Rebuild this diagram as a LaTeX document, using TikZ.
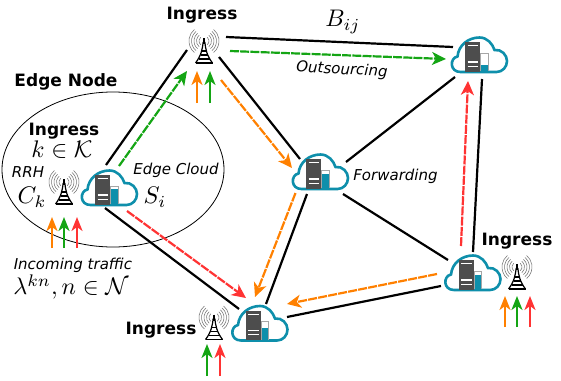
\documentclass[tikz,border=0pt]{standalone}
\usepackage{fontspec}
\usepackage{amsmath}
\setmainfont{DejaVu Sans}
\usetikzlibrary{arrows.meta,shapes.geometric}
\definecolor{teal1}{RGB}{14,143,171}
\definecolor{srv}{RGB}{77,77,77}
\definecolor{orng}{RGB}{255,128,0}
\definecolor{grn}{RGB}{20,165,20}
\definecolor{rd}{RGB}{255,51,51}
\tikzset{
  x=1pt,y=-1pt,
  link/.style={draw=black,line width=2.2pt},
  flow/.style={line width=2.2pt,dash pattern=on 9pt off 1.2pt,-{Stealth[length=14pt,width=13pt,inset=4pt]}},
  inflow/.style={line width=2.2pt,-{Stealth[length=14pt,width=11pt,inset=4pt]}},
  spot/.style={inner sep=0pt,minimum size=1pt},
  bold/.style={font=\fontsize{17}{20}\selectfont\bfseries,inner sep=0pt},
  ital/.style={font=\fontsize{15}{18}\selectfont\itshape,inner sep=0pt},
  mth/.style={inner sep=0pt,scale=2.4},
  cloud/.pic={
    \draw[teal1,line width=2.6pt,fill=white]
      (-19,17) .. controls (-30,17) and (-30,3) .. (-22,1.5)
      .. controls (-21,-10) and (-11,-17.5) .. (0,-17.5)
      .. controls (8,-17.5) and (13,-11) .. (15,-5)
      .. controls (22,-6) and (27.5,0) .. (27.5,6)
      .. controls (27.5,12) and (23,17) .. (17,17) -- cycle;
    \fill[srv] (-14.5,-13) rectangle (0.5,16.5);
    \draw[white,line width=1.2pt] (-12,-9.3) -- (-1.5,-9.3) (-12,7) -- (-1.5,7) (-12,11.3) -- (-1.5,11.3);
    \fill[teal1] (0.5,#1) rectangle (9.3,16.5);
    \draw[gray!70,line width=1pt] (1,16) -- (1,-2) -- (8.8,-2) -- (8.8,16);
  },
  tower/.pic={
    \foreach \r in {5,7.5,10,12.5,15}{
      \draw[gray!90!black,line width=.55pt] ({\r*cos(50)},{\r*sin(50)}) arc[start angle=-50,end angle=50,radius=\r pt];
      \draw[gray!90!black,line width=.55pt] ({-\r*cos(50)},{\r*sin(50)}) arc[start angle=230,end angle=130,radius=\r pt];
    }
    \draw[black,line width=1.2pt] (0,-3) -- (0,3);
    \draw[black,line width=1.2pt] (-8.5,22) .. controls (-3,15) and (-1.5,8) .. (-.8,1);
    \draw[black,line width=1.2pt] (8.5,22) .. controls (3,15) and (1.5,8) .. (.8,1);
    \draw[black,line width=1.1pt] (-2,10) -- (2,10) (-3.5,14) -- (3.5,14) (-5.5,18) -- (5.5,18) (-8.5,22) -- (8.5,22);
  }
}
\begin{document}
\begin{tikzpicture}
\useasboundingbox (0,0) rectangle (561,380);
\node[draw=black,line width=.8pt,ellipse,inner sep=0pt,minimum width=222pt,minimum height=155pt] (en) at (113,169.5) {};
% cloud anchors
\node[spot] (ce) at (109.5,188) {};
\node[spot] (cf) at (320.5,172) {};
\node[spot] (ct) at (479.5,55) {};
\node[spot] (cb) at (260,323.5) {};
\node[spot] (cr) at (473,273) {};
% tower anchors
\node[spot] (tt) at (204,41) {};
\node[spot] (te) at (64,182) {};
\node[spot] (tb) at (214,317.5) {};
\node[spot] (tr) at (517,267) {};
% links
\draw[link] ([shift={(-17,9)}]tt.center) -- ([shift={(-3.5,-23)}]ce.center);
\draw[link] ([shift={(22,-4)}]tt.center) -- ([shift={(-26.5,-8)}]ct.center);
\draw[link] ([shift={(15,16)}]tt.center) -- ([shift={(-20.5,-13)}]cf.center);
\draw[link] ([shift={(25.5,-10)}]cf.center) -- ([shift={(-24.5,22)}]ct.center);
\draw[link] ([shift={(2.5,24)}]ct.center) -- ([shift={(0,-21)}]cr.center);
\draw[link] ([shift={(22.5,22)}]cf.center) -- ([shift={(-25,-13)}]cr.center);
\draw[link] ([shift={(-13.5,22)}]cf.center) -- ([shift={(6,-19.5)}]cb.center);
\draw[link] ([shift={(-32,13)}]cr.center) -- ([shift={(27,-6.5)}]cb.center);
\draw[link] ([shift={(-4.5,20)}]ce.center) -- ([shift={(-21,-14.5)}]cb.center);
% flows
\draw[flow,grn] ([shift={(9.5,-22)}]ce.center) -- ([shift={(-17,30)}]tt.center);
\draw[flow,grn] ([shift={(26,10)}]tt.center) -- ([shift={(-33.5,4)}]ct.center);
\draw[flow,orng] ([shift={(17,39)}]tt.center) -- ([shift={(-28.5,-4)}]cf.center);
\draw[flow,orng] ([shift={(-25,21)}]cf.center) -- ([shift={(-5,-26.5)}]cb.center);
\draw[flow,rd] ([shift={(17.5,23)}]ce.center) -- ([shift={(-14,-25.5)}]cb.center);
\draw[flow,rd] ([shift={(-12,-27)}]cr.center) -- ([shift={(-11.5,26)}]ct.center);
\draw[flow,orng] ([shift={(-36,1)}]cr.center) -- ([shift={(27,-19.5)}]cb.center);
% clouds and towers
\pic at (ce) {cloud=1};
\pic at (cf) {cloud=2};
\pic at (ct) {cloud=10};
\pic at (cb) {cloud=4.5};
\pic at (cr) {cloud=2};
\pic at (tt) {tower};
\pic at (te) {tower};
\pic at (tb) {tower};
\pic at (tr) {tower};
% incoming arrows
\coordinate (a1s) at (197,103); \coordinate (a1e) at (197,71);
\coordinate (a2s) at (210,103); \coordinate (a2e) at (210,71);
\draw[inflow,orng] (a1s) -- (a1e);
\draw[inflow,grn] (a2s) -- (a2e);
\coordinate (b1s) at (52,248); \coordinate (b1e) at (52,217);
\coordinate (b2s) at (64,248); \coordinate (b2e) at (64,217);
\coordinate (b3s) at (77,248); \coordinate (b3e) at (77,217);
\draw[inflow,orng] (b1s) -- (b1e);
\draw[inflow,grn] (b2s) -- (b2e);
\draw[inflow,rd] (b3s) -- (b3e);
\coordinate (c1s) at (207,376); \coordinate (c1e) at (207,344);
\coordinate (c2s) at (220,376); \coordinate (c2e) at (220,344);
\draw[inflow,grn] (c1s) -- (c1e);
\draw[inflow,rd] (c2s) -- (c2e);
\coordinate (d1s) at (505,327); \coordinate (d1e) at (505,296);
\coordinate (d2s) at (517,327); \coordinate (d2e) at (517,296);
\coordinate (d3s) at (530,327); \coordinate (d3e) at (530,296);
\draw[inflow,orng] (d1s) -- (d1e);
\draw[inflow,grn] (d2s) -- (d2e);
\draw[inflow,rd] (d3s) -- (d3e);
% labels
\node[bold] (l1) at (202,15.5) {Ingress};
\node[bold] (l2) at (66,81.5) {Edge Node};
\node[bold] (l3) at (64,131) {Ingress};
\node[bold] (l4) at (161,329.7) {Ingress};
\node[bold] (l5) at (517,240.8) {Ingress};
\node[ital] (l6) at (342,70) [rotate=-3] {Outsourcing};
\node[ital] (l7) at (395.5,176) {Forwarding};
\node[ital] (l8) at (28,171.7) {RRH};
\node[ital] (l9) at (176,170.5) {Edge Cloud};
\node[ital] (l10) at (73,265) {Incoming traffic};
\node[mth] (m1) at (343,22) {$B_{ij}$};
\node[mth] (m2) at (62,150) {$k\in\mathcal{K}$};
\node[mth] (m3) at (32,197) {$C_k$};
\node[mth] (m4) at (155,197) {$S_i$};
\node[mth] (m5) at (71,287) {$\lambda^{kn},n\in\mathcal{N}$};
\end{tikzpicture}
\end{document}
